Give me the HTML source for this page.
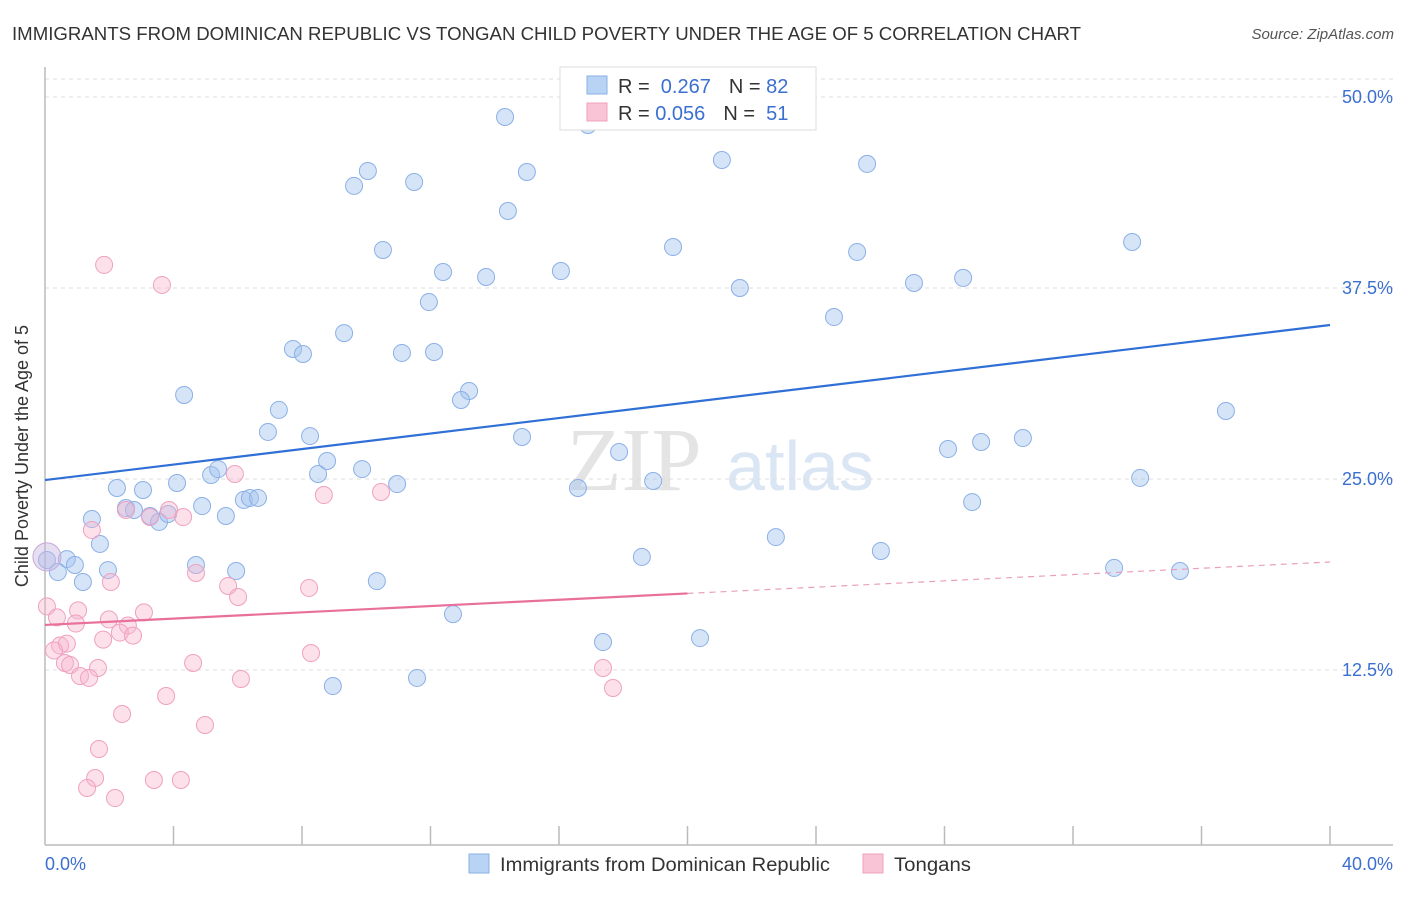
<!DOCTYPE html>
<html><head><meta charset="utf-8"><style>
body{margin:0;background:#fff;font-family:"Liberation Sans",sans-serif}
</style></head><body>
<svg width="1406" height="892" xmlns="http://www.w3.org/2000/svg">
<text x="12" y="40" font-size="18.5" fill="#333" textLength="1069" lengthAdjust="spacingAndGlyphs">IMMIGRANTS FROM DOMINICAN REPUBLIC VS TONGAN CHILD POVERTY UNDER THE AGE OF 5 CORRELATION CHART</text>
<text x="1394" y="39" font-size="15" fill="#555" font-style="italic" text-anchor="end">Source: ZipAtlas.com</text>
<text x="634" y="490" font-size="90" fill="#e4e4e4" font-family="Liberation Serif" text-anchor="middle">ZIP</text>
<text x="800" y="490" font-size="70" fill="#dbe6f5" text-anchor="middle">atlas</text>
<g id="grid"></g>
<line x1="45" y1="67" x2="45" y2="845" stroke="#bbb" stroke-width="1.5"/>
<line x1="45" y1="845" x2="1393" y2="845" stroke="#bbb" stroke-width="1.5"/>
<g id="ticks"></g>
<text x="28" y="456" font-size="18" fill="#333" text-anchor="middle" transform="rotate(-90 28 456)">Child Poverty Under the Age of 5</text>
<text x="45" y="870" font-size="18" fill="#3b6fd0">0.0%</text>
<text x="1393" y="870" font-size="18" fill="#3b6fd0" text-anchor="end">40.0%</text>
<g id="pts"></g>
<g id="lines"></g>
<g>
<rect x="560" y="67" width="256" height="63" fill="#fff" stroke="#ddd"/>
<rect x="587" y="76" width="20" height="18" fill="#b9d3f5" stroke="#8ab0e6"/>
<rect x="587" y="103" width="20" height="18" fill="#f8c4d6" stroke="#f0a0bf"/>
<text x="618" y="93" font-size="20" fill="#333">R = <tspan fill="#3b6fd0">&#160;0.267</tspan><tspan dx="18">N = </tspan><tspan fill="#3b6fd0">82</tspan></text>
<text x="618" y="120" font-size="20" fill="#333">R = <tspan fill="#3b6fd0">0.056</tspan><tspan dx="18">N = </tspan><tspan fill="#3b6fd0">&#160;51</tspan></text>
</g>
<g>
<rect x="469" y="854" width="20" height="19" fill="#b9d3f5" stroke="#8ab0e6"/>
<text x="500" y="871" font-size="19" fill="#333" textLength="330" lengthAdjust="spacingAndGlyphs">Immigrants from Dominican Republic</text>
<rect x="863" y="854" width="20" height="19" fill="#f8c4d6" stroke="#f0a0bf"/>
<text x="894" y="871" font-size="19" fill="#333" textLength="77" lengthAdjust="spacingAndGlyphs">Tongans</text>
</g>
</svg>
<script>
const yTicks=[12.5,25,37.5,50];
const yTickLabels=["12.5%","25.0%","37.5%","50.0%"];
const blueX=[14.32,16.90,21.07,25.59,10.05,15.00,9.62,11.49,14.41,10.52,19.55,25.28,33.84,12.39,13.73,16.06,21.63,27.05,28.58,11.95,24.56,9.31,7.72,8.03,11.11,12.11,13.20,12.95,4.33,7.28,6.94,8.25,14.85,36.76,30.44,29.14,28.11,17.87,8.78,9.87,8.50,5.17,5.39,4.11,10.96,18.93,34.09,16.59,2.24,3.05,4.89,6.19,6.38,6.63,5.63,2.52,2.77,3.27,3.55,3.83,1.46,28.86,1.71,22.75,26.02,18.58,0.68,0.93,0.06,0.40,1.96,4.70,5.95,1.18,10.33,33.28,35.33,12.70,17.37,20.39,8.96,11.58];
const blueY=[48.69,48.17,45.88,45.62,45.16,45.09,44.18,44.44,42.54,39.99,40.18,39.86,40.51,38.55,38.22,38.61,37.50,37.83,38.16,36.58,35.60,34.55,33.51,33.18,33.25,33.31,30.76,30.17,30.50,29.52,28.08,27.81,27.75,29.45,27.68,27.42,26.96,26.77,26.18,25.65,25.33,25.26,25.65,24.74,24.67,24.87,25.07,24.41,24.41,24.28,23.23,23.63,23.76,23.76,22.58,23.10,22.97,22.58,22.19,22.71,22.38,23.49,20.75,21.20,20.29,19.90,19.76,19.37,19.70,18.91,19.04,19.37,18.98,18.26,18.32,19.18,18.98,16.16,14.33,14.59,11.45,11.98];
const pinkX=[1.84,3.64,5.91,10.46,8.68,2.52,3.86,4.30,3.27,1.46,2.05,4.70,5.70,6.01,8.22,0.06,1.03,3.08,0.37,0.96,1.99,2.58,2.33,2.74,1.81,0.47,0.68,0.28,0.62,0.78,1.65,1.09,1.37,4.61,8.28,17.37,17.68,3.77,6.10,2.40,4.98,1.68,1.56,3.39,4.23,1.31,2.18];
const pinkY=[39.01,37.70,25.33,24.15,23.95,22.97,22.97,22.51,22.51,21.66,18.26,18.85,18.00,17.28,17.87,16.66,16.40,16.27,15.94,15.54,15.81,15.41,14.95,14.75,14.49,14.10,14.23,13.78,12.96,12.83,12.63,12.11,11.98,12.96,13.61,12.63,11.32,10.80,11.91,9.62,8.90,7.33,5.43,5.30,5.30,4.78,4.12];
const blueTrend=[24.93,35.08];
const pinkTrend=[15.45,19.57];
const pinkSolidEnd=20;
const NS="http://www.w3.org/2000/svg";
const xs=v=>45+v/40*1285;
const ys=v=>861-v*15.28;
function mk(t,a,p){const e=document.createElementNS(NS,t);for(const k in a)e.setAttribute(k,a[k]);document.getElementById(p).appendChild(e);return e;}
yTicks.forEach((t,i)=>{
 const l=mk('line',{x1:45,x2:1393,y1:ys(t),y2:ys(t),stroke:'#ddd','stroke-dasharray':'4,4'},'grid');
 
 
 const tx=mk('text',{x:1393,y:ys(t)+6,'font-size':18,fill:'#3b6fd0','text-anchor':'end'},'grid');
 tx.textContent=yTickLabels[i];
 
 
});
const tl=mk('line',{x1:45,x2:1393,y1:79,y2:79,stroke:'#ddd','stroke-dasharray':'4,4'},'grid');


for(let i=1;i<=10;i++){
 const l=mk('line',{x1:xs(i*4),x2:xs(i*4),y1:826,y2:845,stroke:'#bbb','stroke-width':1.5},'ticks');
 
 
}
blueX.forEach((x,i)=>{
 const c=mk('circle',{cx:xs(x),cy:ys(blueY[i]),r:8.5,fill:'rgba(165,195,240,0.45)',stroke:'#8ab0e6','stroke-width':1},'pts');
 
 
});
pinkX.forEach((x,i)=>{
 const c=mk('circle',{cx:xs(x),cy:ys(pinkY[i]),r:8.5,fill:'rgba(248,180,205,0.4)',stroke:'#f0a0bf','stroke-width':1},'pts');
 
 
});
const big=mk('circle',{cx:xs(0.06),cy:ys(19.9),r:14,fill:'rgba(200,185,225,0.45)',stroke:'#c8a8d8'},'pts');


const bl=mk('line',{x1:xs(0),y1:ys(blueTrend[0]),x2:xs(40),y2:ys(blueTrend[1]),stroke:'#2f6fd6','stroke-width':2.2},'lines');


const pm=pinkTrend[0]+(pinkTrend[1]-pinkTrend[0])*pinkSolidEnd/40;
const pl=mk('line',{x1:xs(0),y1:ys(pinkTrend[0]),x2:xs(pinkSolidEnd),y2:ys(pm),stroke:'#e8709a','stroke-width':2.2},'lines');


const pd=mk('line',{x1:xs(pinkSolidEnd),y1:ys(pm),x2:xs(40),y2:ys(pinkTrend[1]),stroke:'#eaa0bb','stroke-width':1.2,'stroke-dasharray':'6,5'},'lines');


</script>
</body></html>
